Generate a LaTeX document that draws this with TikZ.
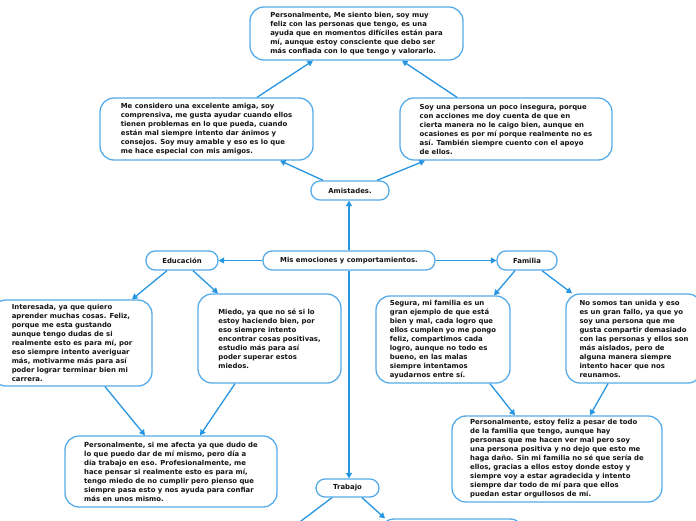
\documentclass[tikz,border=0pt]{standalone}
\usepackage{fontspec}
\setmainfont{DejaVu Sans}
\usetikzlibrary{arrows.meta}
\definecolor{bordc}{RGB}{86,172,232}
\definecolor{edgec}{RGB}{38,150,226}
\definecolor{txtc}{RGB}{20,20,20}
\begin{document}
\begin{tikzpicture}[x=1pt,y=-1pt,
  box/.style={draw=bordc, line width=1.3pt, fill=white, rounded corners=14pt, inner sep=0pt,
    align=left, text=txtc, font=\fontsize{6.9}{9}\selectfont\bfseries},
  pill/.style={draw=bordc, line width=1.3pt, fill=white, rounded corners=9pt, inner sep=0pt,
    align=center, text=txtc, font=\fontsize{6.9}{9}\selectfont\bfseries},
  conn/.style={draw=edgec, line width=1.3pt, -{Triangle[length=5.5pt,width=6pt]}}]
\clip (0,0) rectangle (696,520);
\fill[white] (0,0) rectangle (696,520);

\node[box, minimum width=213pt, minimum height=53pt] (top) at (356.5,33.5) {Personalmente, Me siento bien, soy muy\\feliz con las personas que tengo, es una\\ayuda que en momentos difíciles están para\\mí, aunque estoy consciente que debo ser\\más confiada con lo que tengo y valorarlo.};
\node[box, minimum width=213pt, minimum height=62pt] (amiga) at (206.5,129) {Me considero una excelente amiga, soy\\comprensiva, me gusta ayudar cuando ellos\\tienen problemas en lo que pueda, cuando\\están mal siempre intento dar ánimos y\\consejos. Soy muy amable y eso es lo que\\me hace especial con mis amigos.};
\node[box, minimum width=212pt, minimum height=62pt] (inseg) at (506,129) {Soy una persona un poco insegura, porque\\con acciones me doy cuenta de que en\\cierta manera no le caigo bien, aunque en\\ocasiones es por mí porque realmente no es\\así. También siempre cuento con el apoyo\\de ellos.};
\node[pill, minimum width=78pt, minimum height=19pt] (amist) at (350,190.5) {Amistades.};
\node[pill, minimum width=172pt, minimum height=19pt] (central) at (349,260.5) {Mis emociones y comportamientos.};
\node[pill, minimum width=72pt, minimum height=19pt] (educ) at (182,260.5) {Educación};
\node[pill, minimum width=60pt, minimum height=19pt] (fam) at (527,260.5) {Familia};
\node[box, minimum width=160pt, minimum height=86pt] (inter) at (72,343) {Interesada, ya que quiero\\aprender muchas cosas. Feliz,\\porque me esta gustando\\aunque tengo dudas de si\\realmente esto es para mí, por\\eso siempre intento averiguar\\más, motivarme más para así\\poder lograr terminar bien mi\\carrera.};
\node[box, minimum width=143pt, minimum height=89pt] (miedo) at (269.5,338.5) {Miedo, ya que no sé si lo\\estoy haciendo bien, por\\eso siempre intento\\encontrar cosas positivas,\\estudio más para así\\poder superar estos\\miedos.};
\node[box, minimum width=134pt, minimum height=87pt] (segura) at (443,339.5) {Segura, mi familia es un\\gran ejemplo de que está\\bien y mal, cada logro que\\ellos cumplen yo me pongo\\feliz, compartimos cada\\logro, aunque no todo es\\bueno, en las malas\\siempre intentamos\\ayudarnos entre sí.};
\node[box, minimum width=136pt, minimum height=89pt] (nosomos) at (634,338.5) {No somos tan unida y eso\\es un gran fallo, ya que yo\\soy una persona que me\\gusta compartir demasiado\\con las personas y ellos son\\más aislados, pero de\\alguna manera siempre\\intento hacer que nos\\reunamos.};
\node[box, minimum width=212pt, minimum height=71pt] (afecta) at (171,471.5) {Personalmente, si me afecta ya que dudo de\\lo que puedo dar de mí mismo, pero día a\\día trabajo en eso. Profesionalmente, me\\hace pensar si realmente esto es para mí,\\tengo miedo de no cumplir pero pienso que\\siempre pasa esto y nos ayuda para confiar\\más en unos mismo.};
\node[box, minimum width=210pt, minimum height=86pt] (feliz) at (557,459) {Personalmente, estoy feliz a pesar de todo\\de la familia que tengo, aunque hay\\personas que me hacen ver mal pero soy\\una persona positiva y no dejo que esto me\\haga daño. Sin mi familia no sé que sería de\\ellos, gracias a ellos estoy donde estoy y\\siempre voy a estar agradecida y intento\\siempre dar todo de mí para que ellos\\puedan estar orgullosos de mí.};
\node[pill, minimum width=63pt, minimum height=18pt] (trabajo) at (347.5,488) {Trabajo};
\node[box, minimum width=144pt, minimum height=32pt] (botR) at (452,535) {};
\node[box, minimum width=100pt, minimum height=30pt] (botL) at (270,545) {};

% connectors
\draw[conn] ([xshift=50.5pt]amiga.north) -- ([xshift=-43.5pt]top.south);
\draw[conn] ([xshift=-49pt]inseg.north) -- ([xshift=45.5pt]top.south);
\draw[conn] ([xshift=-27pt]amist.north) -- ([xshift=73.5pt]amiga.south);
\draw[conn] ([xshift=27pt]amist.north) -- ([xshift=-81pt]inseg.south);
\draw[conn] (central.north) -- (central.north |- amist.south);
\draw[conn] (central.west) -- (educ.east);
\draw[conn] (central.east) -- (fam.west);
\draw[conn] (central.south) -- (central.south |- trabajo.north);
\draw[conn] ([xshift=-15pt]educ.south) -- ([xshift=60pt]inter.north);
\draw[conn] ([xshift=11pt]educ.south) -- ([xshift=-51.5pt]miedo.north);
\draw[conn] ([xshift=33pt]inter.south) -- ([xshift=-26pt]afecta.north);
\draw[conn] ([xshift=-34.5pt]miedo.south) -- ([xshift=29pt]afecta.north);
\draw[conn] ([xshift=-12pt]fam.south) -- ([xshift=51pt]segura.north);
\draw[conn] ([xshift=15pt]fam.south) -- ([xshift=-62pt]nosomos.north);
\draw[conn] ([xshift=47pt]segura.south) -- ([xshift=-42pt]feliz.north);
\draw[conn] ([xshift=-26pt]nosomos.south) -- ([xshift=33pt]feliz.north);
\draw[conn] ([xshift=-15.5pt]trabajo.south) -- ([xshift=20pt]botL.north);
\draw[conn] ([xshift=14.5pt]trabajo.south) -- ([xshift=-67pt]botR.north);
\end{tikzpicture}
\end{document}
